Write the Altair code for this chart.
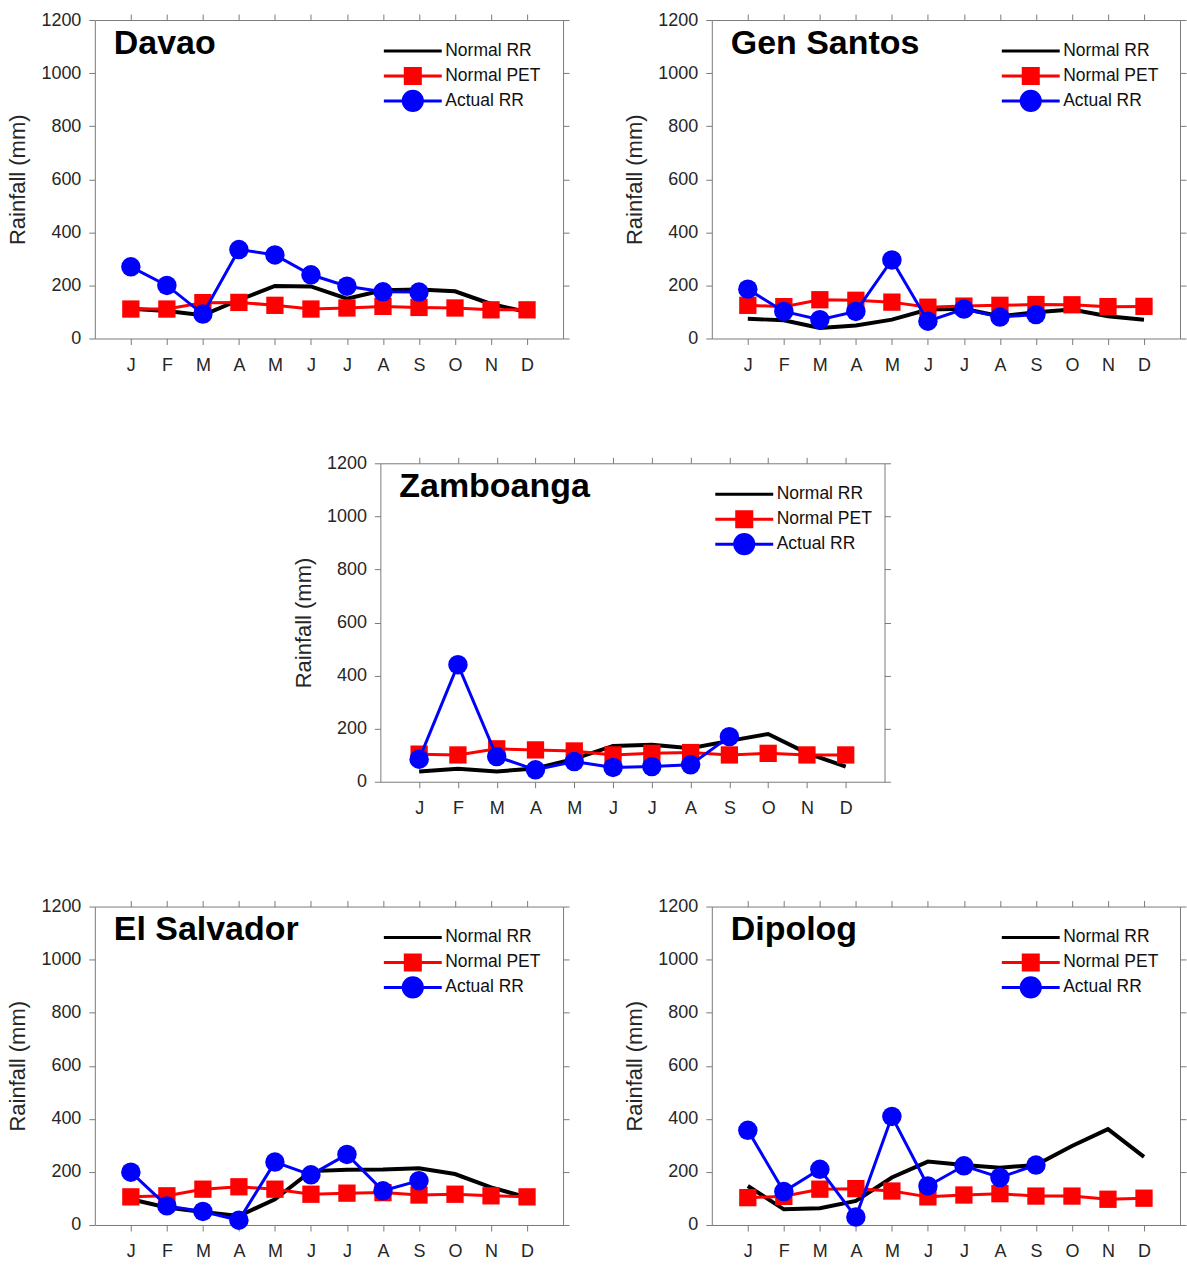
import json
import altair as alt
import pandas as pd

MONTHS = ["J", "F", "M", "A", "M", "J", "J", "A", "S", "O", "N", "D"]
SERIES = ["Normal RR", "Normal PET", "Actual RR"]
COLORS = ["#000000", "#ff0000", "#0000ff"]
Y_TICKS = [0, 200, 400, 600, 800, 1000, 1200]

DAVAO_RR = [112, 104, 88, 145, 198, 196, 150, 182, 185, 178, 130, 100]
DAVAO_PET = [111, 111, 135, 136, 125, 111, 115, 121, 117, 115, 108, 108]
DAVAO_ACT = [270, 200, 92, 335, 315, 240, 197, 176, 175]

GENSAN_RR = [74, 69, 40, 49, 71, 109, 112, 84, 99, 109, 84, 71]
GENSAN_PET = [125, 120, 146, 144, 137, 118, 122, 125, 128, 127, 120, 121]
GENSAN_ACT = [186, 102, 71, 102, 296, 65, 111, 81, 90]

ZAMBO_RR = [39, 49, 39, 50, 86, 135, 139, 126, 154, 180, 108, 57]
ZAMBO_PET = [104, 101, 124, 120, 116, 101, 107, 110, 101, 107, 101, 101]
ZAMBO_ACT = [85, 441, 95, 45, 76, 54, 57, 64, 170]

ELSAL_RR = [97, 66, 49, 34, 97, 203, 208, 209, 214, 192, 142, 104]
ELSAL_PET = [106, 110, 135, 144, 135, 116, 120, 122, 113, 116, 110, 106]
ELSAL_ACT = [199, 72, 51, 18, 237, 189, 266, 129, 167]

DIPO_RR = [147, 59, 63, 91, 179, 239, 226, 216, 226, 298, 361, 257]
DIPO_PET = [103, 108, 135, 137, 128, 106, 113, 118, 109, 109, 97, 101]
DIPO_ACT = [357, 126, 210, 30, 409, 147, 223, 179, 226]

FONT = "Liberation Sans"
AXIS_GRAY = "#7a7a7a"
TEXT_GRAY = "#262626"

LABEL_EXPR = json.dumps(MONTHS) + "[datum.value - 1]"

# legend symbols: line sample plus marker (custom SVG paths in [-1, 1])
LEGEND_PATHS = [
    "M-1,0L1,0",
    "M-1,0L1,0M-0.26,-0.26L0.26,-0.26L0.26,0.26L-0.26,0.26Z",
    "M-1,0L1,0M0.33,0A0.33,0.33,0,1,1,-0.33,0A0.33,0.33,0,1,1,0.33,0Z",
]


def make_df(rr, pet, act):
    rows = []
    for s, vals in zip(SERIES, [rr, pet, act]):
        for i, v in enumerate(vals):
            rows.append({"m": i + 1, "series": s, "v": v})
    return pd.DataFrame(rows)


def panel(name, rr, pet, act, width, legend_x):
    df = make_df(rr, pet, act)
    base = alt.Chart(df)
    xs = alt.Scale(domain=[0, 13], nice=False, zero=False)
    ys = alt.Scale(domain=[0, 1200], nice=False)

    x_bottom = alt.X(
        "m:Q", scale=xs,
        axis=alt.Axis(orient="bottom", values=list(range(1, 13)), labelExpr=LABEL_EXPR,
                      title=None, grid=False, tickSize=6, labelPadding=12,
                      labelFontSize=18, labelFont=FONT, labelColor=TEXT_GRAY,
                      domainColor=AXIS_GRAY, tickColor=AXIS_GRAY),
    )
    y_left = alt.Y(
        "v:Q", scale=ys,
        axis=alt.Axis(orient="left", values=Y_TICKS, format="d", title="Rainfall (mm)",
                      grid=False, tickSize=6, labelPadding=8, labelFontSize=18,
                      labelFont=FONT, labelColor=TEXT_GRAY, titleFont=FONT,
                      titleFontSize=22, titleFontWeight="normal", titleColor=TEXT_GRAY,
                      titlePadding=11, domainColor=AXIS_GRAY, tickColor=AXIS_GRAY),
    )
    x_top = alt.X(
        "m:Q", scale=xs,
        axis=alt.Axis(orient="top", values=list(range(1, 13)), labels=False, title=None,
                      grid=False, tickSize=6, domainColor=AXIS_GRAY, tickColor=AXIS_GRAY),
    )
    y_right = alt.Y(
        "v:Q", scale=ys,
        axis=alt.Axis(orient="right", values=Y_TICKS, labels=False, title=None,
                      grid=False, tickSize=6, domainColor=AXIS_GRAY, tickColor=AXIS_GRAY),
    )
    x_none = alt.X("m:Q", scale=xs, axis=None)
    y_none = alt.Y("v:Q", scale=ys, axis=None)

    rr_df = base.transform_filter(alt.datum.series == SERIES[0])
    pet_df = base.transform_filter(alt.datum.series == SERIES[1])
    act_df = base.transform_filter(alt.datum.series == SERIES[2])

    rr_line = rr_df.mark_line(color=COLORS[0], strokeWidth=4).encode(x=x_bottom, y=y_left)
    frame = rr_df.mark_line(opacity=0).encode(x=x_top, y=y_right)
    pet_line = pet_df.mark_line(color=COLORS[1], strokeWidth=3).encode(x=x_none, y=y_none)
    pet_pts = pet_df.mark_point(shape="square", filled=True, size=300, color=COLORS[1],
                                opacity=1).encode(x=x_none, y=y_none)
    act_line = act_df.mark_line(color=COLORS[2], strokeWidth=3).encode(x=x_none, y=y_none)
    act_pts = act_df.mark_point(shape="circle", filled=True, size=380, color=COLORS[2],
                                opacity=1).encode(x=x_none, y=y_none)

    leg = alt.Legend(title=None, orient="none", legendX=legend_x, legendY=19,
                     symbolSize=3364, symbolStrokeWidth=3, labelFontSize=17.5,
                     labelFont=FONT, labelColor="#111111", labelOffset=2,
                     rowPadding=1, clipHeight=24, padding=0)
    legend_layer = base.transform_filter("false").mark_point(
        filled=True, size=3364, strokeWidth=3, opacity=1
    ).encode(
        fill=alt.Fill("series:N", scale=alt.Scale(domain=SERIES, range=COLORS), legend=leg),
        stroke=alt.Stroke("series:N", scale=alt.Scale(domain=SERIES, range=COLORS), legend=leg),
        shape=alt.Shape("series:N", scale=alt.Scale(domain=SERIES, range=LEGEND_PATHS), legend=leg),
    )

    title = alt.Chart(pd.DataFrame({"name": [name]})).mark_text(
        font=FONT, fontSize=34, fontWeight="bold", align="left", baseline="middle",
        color="#000000"
    ).encode(text="name:N", x=alt.value(19), y=alt.value(24))

    return alt.layer(
        rr_line, frame, pet_line, pet_pts, act_line, act_pts, legend_layer, title
    ).resolve_axis(x="independent", y="independent").properties(width=width, height=319)


def indep(c):
    return c.resolve_scale(fill="independent", stroke="independent", shape="independent")\
            .resolve_legend(fill="independent", stroke="independent", shape="independent")


davao = panel("Davao", DAVAO_RR, DAVAO_PET, DAVAO_ACT, 469, 288)
gensan = panel("Gen Santos", GENSAN_RR, GENSAN_PET, GENSAN_ACT, 469, 289)
zambo = panel("Zamboanga", ZAMBO_RR, ZAMBO_PET, ZAMBO_ACT, 505, 334)
elsal = panel("El Salvador", ELSAL_RR, ELSAL_PET, ELSAL_ACT, 469, 288)
dipo = panel("Dipolog", DIPO_RR, DIPO_PET, DIPO_ACT, 469, 289)

# empty spacer that indents the middle panel
spacer = alt.Chart(pd.DataFrame({"a": [0]})).mark_point(opacity=0).properties(
    width=189, height=1
)

row1 = indep(alt.hconcat(davao, gensan, spacing=53))
row2 = indep(alt.hconcat(spacer, zambo, spacing=8))
row3 = indep(alt.hconcat(elsal, dipo, spacing=53))

chart = indep(alt.vconcat(row1, row2, row3, spacing=80)).properties(
    padding={"left": 6, "top": 10, "right": 0, "bottom": 0},
    background="white",
).configure_view(stroke=None)

chart.save("out.html", embed_options={"renderer": "svg", "actions": False})
